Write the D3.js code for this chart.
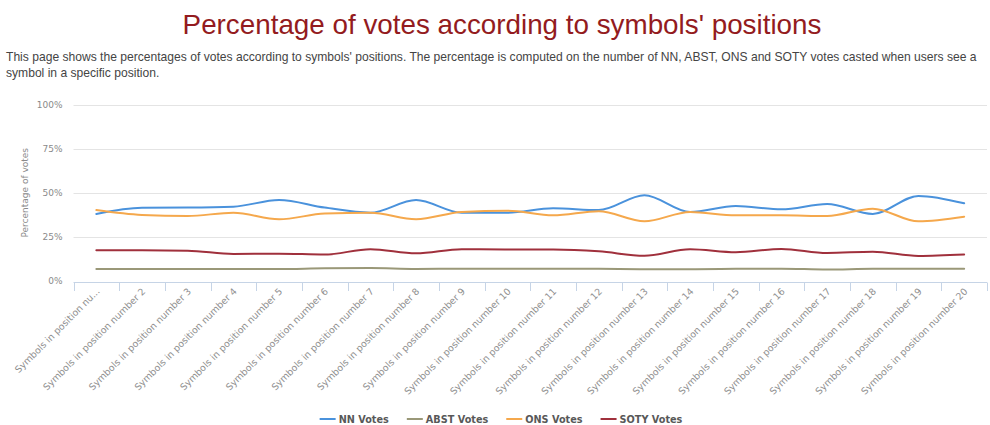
<!DOCTYPE html>
<html>
<head>
<meta charset="utf-8">
<script src="https://cdn.jsdelivr.net/npm/d3@7/dist/d3.min.js"></script>
<style>
  html, body { margin: 0; padding: 0; background: #fff; overflow: hidden; }
  svg { display: block; }
</style>
</head>
<body>
<svg id="chart" width="990" height="425"></svg>
<script>
// ---- data ----
const categories = d3.range(1, 21).map(i => "Symbols in position number " + i);
const nnVotes   = [38.0, 41.5, 41.6, 42.1, 45.9, 41.6, 38.7, 45.9, 38.7, 38.7, 41.2, 40.2, 48.6, 39.1, 42.5, 40.6, 43.6, 38.0, 48.2, 44.0];
const abstVotes = [6.8, 6.8, 6.8, 6.8, 6.8, 7.2, 7.3, 6.8, 7.0, 7.0, 7.0, 6.9, 6.7, 6.7, 6.9, 7.0, 6.5, 6.9, 6.9, 6.9];
const onsVotes  = [40.2, 37.4, 36.8, 38.7, 35.0, 38.2, 38.7, 35.0, 39.1, 39.8, 37.2, 39.5, 33.8, 39.1, 37.2, 37.2, 36.8, 41.0, 33.8, 36.4];
const sotyVotes = [17.4, 17.4, 17.2, 15.3, 15.5, 15.0, 18.0, 15.7, 18.0, 17.8, 17.8, 16.8, 14.3, 18.0, 16.3, 18.2, 15.9, 16.6, 14.2, 15.0];
const yTicks = [0, 25, 50, 75, 100];
const seriesNames = ["NN Votes", "ABST Votes", "ONS Votes", "SOTY Votes"];

const series = [
  { name: seriesNames[0], values: nnVotes,   color: "#4a92dc" },
  { name: seriesNames[1], values: abstVotes, color: "#9a9878" },
  { name: seriesNames[2], values: onsVotes,  color: "#f5a84c" },
  { name: seriesNames[3], values: sotyVotes, color: "#a0303c" }
];

// ---- layout ----
const plot = { left: 73.5, right: 987, top: 104.5, bottom: 281 };
const svg = d3.select("#chart");

// title + description
svg.append("text")
  .attr("x", 502).attr("y", 34)
  .attr("text-anchor", "middle")
  .style("font-family", "'Liberation Sans', Arial, sans-serif")
  .style("font-size", "27.8px")
  .attr("fill", "#931b20")
  .text("Percentage of votes according to symbols' positions");

const desc = [
  "This page shows the percentages of votes according to symbols' positions. The percentage is computed on the number of NN, ABST, ONS and SOTY votes casted when users see a",
  "symbol in a specific position."
];
svg.append("g").selectAll("text").data(desc).join("text")
  .attr("x", 6).attr("y", (d, i) => 61 + i * 16)
  .style("font-family", "'Liberation Sans', Arial, sans-serif")
  .style("font-size", "12.1px")
  .attr("fill", "#444")
  .text(d => d);

// ---- scales ----
const x = d3.scaleBand().domain(categories).range([plot.left, plot.right]).padding(0);
const y = d3.scaleLinear().domain([0, 100]).range([plot.bottom, plot.top]);
const cx = c => x(c) + x.bandwidth() / 2;

// grid lines
svg.append("g").selectAll("line").data(yTicks.filter(t => t > 0)).join("line")
  .attr("x1", plot.left).attr("x2", plot.right)
  .attr("y1", d => Math.round(y(d)) + 0.5).attr("y2", d => Math.round(y(d)) + 0.5)
  .attr("stroke", "#e4e4e4").attr("stroke-width", 1);

// y axis labels
const yAxis = d3.axisLeft(y).tickValues(yTicks).tickFormat(d => d + "%").tickSize(0).tickPadding(11);
const gy = svg.append("g").attr("transform", `translate(${plot.left},0)`).call(yAxis);
gy.select(".domain").remove();
gy.selectAll("text")
  .style("font-family", "'DejaVu Sans', Verdana, sans-serif")
  .style("font-size", "9px")
  .attr("fill", "#8a8a8a");

svg.append("text")
  .attr("transform", `translate(28,${(plot.top + plot.bottom) / 2}) rotate(-90)`)
  .attr("text-anchor", "middle")
  .style("font-family", "'DejaVu Sans', Verdana, sans-serif")
  .style("font-size", "9px")
  .attr("fill", "#8a8a8a")
  .text("Percentage of votes");

// x axis: line + boundary ticks
const gx = svg.append("g");
gx.append("line")
  .attr("x1", plot.left).attr("x2", plot.right)
  .attr("y1", plot.bottom + 1.5).attr("y2", plot.bottom + 1.5)
  .attr("stroke", "#c6d4e6").attr("stroke-width", 1);
const bounds = categories.map(c => x(c)).concat([plot.right]);
gx.selectAll("line.tick").data(bounds).join("line").attr("class", "tick")
  .attr("x1", d => Math.round(d) + 0.5).attr("x2", d => Math.round(d) + 0.5)
  .attr("y1", plot.bottom + 1.5).attr("y2", plot.bottom + 10)
  .attr("stroke", "#c6d4e6");

// rotated category labels, trimmed with an ellipsis if they would leave the chart
const minLeft = 14;
const labels = gx.selectAll("text").data(categories).join("text")
  .attr("text-anchor", "end")
  .attr("transform", d => `translate(${cx(d) + 4},${plot.bottom + 11}) rotate(-45)`)
  .style("font-family", "'DejaVu Sans', Verdana, sans-serif")
  .style("font-size", "9.4px")
  .attr("fill", "#8e8e8e")
  .text(d => d);
labels.each(function(d) {
  const t = d3.select(this);
  const ax = cx(d) + 4;
  let s = d;
  while (ax - this.getComputedTextLength() * Math.SQRT1_2 < minLeft && s.length > 3) {
    s = s.slice(0, -1);
    t.text(s.trimEnd() + "...");
  }
});

// ---- series lines ----
const line = d3.line()
  .x((v, i) => cx(categories[i]))
  .y(v => y(v))
  .curve(d3.curveMonotoneX);

svg.append("g").selectAll("path").data(series).join("path")
  .attr("d", s => line(s.values))
  .attr("fill", "none")
  .attr("stroke", s => s.color)
  .attr("stroke-width", 2)
  .attr("stroke-linejoin", "round")
  .attr("stroke-linecap", "round");

// ---- legend ----
const legend = svg.append("g");
let lx = 0;
series.forEach(s => {
  const g = legend.append("g").attr("transform", `translate(${lx},0)`);
  g.append("line").attr("x1", 0).attr("x2", 16).attr("y1", 0).attr("y2", 0)
    .attr("stroke", s.color).attr("stroke-width", 2);
  const t = g.append("text").attr("x", 19).attr("y", 3.5)
    .style("font-family", "'DejaVu Sans', Verdana, sans-serif")
    .style("font-size", "9.7px")
    .style("font-weight", "bold")
    .attr("fill", "#585858")
    .text(s.name);
  lx += 19 + t.node().getComputedTextLength() + 18;
});
const legendW = lx - 18;
legend.attr("transform", `translate(${501 - legendW / 2},419)`);
</script>
</body>
</html>
